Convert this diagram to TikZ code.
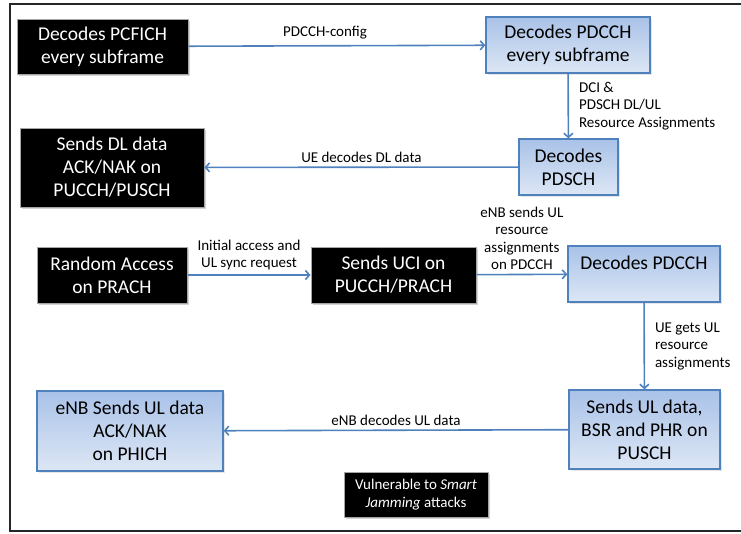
\documentclass[tikz,border=0pt]{standalone}
\usepackage{fontspec}
\setmainfont{Carlito}
\usetikzlibrary{arrows.meta,shadows}
\definecolor{lteblue}{HTML}{4F81BD}
\definecolor{ltetop}{HTML}{A9C2E8}
\definecolor{ltebot}{HTML}{DDE7F5}

\begin{document}
\begin{tikzpicture}[
    x=1pt, y=-1pt,
    darkbox/.style={rectangle, draw=gray!70, line width=1pt, fill=black,
        text=white, align=center, inner sep=0pt,
        font=\fontsize{19.5}{23}\selectfont,
        drop shadow={shadow xshift=2pt, shadow yshift=-2pt, opacity=0.35}},
    bluebox/.style={rectangle, draw=lteblue, line width=1.4pt,
        top color=ltetop, bottom color=ltebot, align=center, inner sep=0pt,
        font=\fontsize{19.5}{23}\selectfont,
        drop shadow={shadow xshift=1.5pt, shadow yshift=-1.5pt, opacity=0.2}},
    edge/.style={draw=lteblue, line width=1.6pt,
        -{Straight Barb[length=4pt, width=9pt, line width=1.6pt]}},
    lbl/.style={font=\fontsize{15}{17.5}\selectfont, inner sep=2pt}
]
    \useasboundingbox (0,0) rectangle (741,533);
    \draw[line width=2pt, black!85] (760,4) -- (10,4) -- (10,531) -- (760,531);

    \node[darkbox, minimum width=171pt, minimum height=55pt] (pcfich) at (102.5,46.5)
        {Decodes PCFICH\\every subframe};
    \node[bluebox, minimum width=164pt, minimum height=56pt] (pdcch) at (568,45)
        {Decodes PDCCH\\every subframe};
    \node[bluebox, minimum width=99pt, minimum height=56pt] (pdsch) at (568.5,167)
        {Decodes\\PDSCH};
    \node[darkbox, minimum width=184pt, minimum height=79pt] (dlack) at (112,167.5)
        {Sends DL data\\ACK/NAK on\\PUCCH/PUSCH};
    \node[darkbox, minimum width=150pt, minimum height=56pt] (rach) at (112,275)
        {Random Access\\on PRACH};
    \node[darkbox, minimum width=165pt, minimum height=56pt] (uci) at (393.5,275)
        {Sends UCI on\\PUCCH/PRACH};
    \node[bluebox, minimum width=152pt, minimum height=56pt] (pdcchul) at (644,274)
        {Decodes PDCCH\\\mbox{}};
    \node[bluebox, minimum width=151pt, minimum height=79pt] (ulsend) at (644.5,429.5)
        {Sends UL data,\\BSR and PHR on\\PUSCH};
    \node[bluebox, minimum width=186pt, minimum height=80pt] (phich) at (130,431)
        {eNB Sends UL data\\ACK/NAK\\on PHICH};
    \node[darkbox, minimum width=144pt, minimum height=45pt,
        font=\fontsize{15}{18}\selectfont] (vuln) at (416,494.5)
        {Vulnerable to \textit{Smart}\\\textit{Jamming} attacks};

    \draw[edge] (pcfich) -- node[lbl, above=4pt, pos=0.46] {PDCCH-config} (pdcch);
    \draw[edge] (pdcch) -- node[lbl, right=8pt, align=left] {DCI \&\\PDSCH DL/UL\\Resource Assignments} (pdsch);
    \draw[edge] (pdsch) -- node[lbl, above=2pt] {UE decodes DL data} (dlack);
    \draw[edge] (rach) -- node[lbl, above=2pt, align=center] {Initial access and\\UL sync request} (uci);
    \draw[edge] (uci) -- node[lbl, above=2pt, align=center] {eNB sends UL\\resource\\assignments\\on PDCCH} (pdcchul);
    \draw[edge] (pdcchul) -- node[lbl, right=8pt, align=left] {UE gets UL\\resource\\assignments} (ulsend);
    \draw[edge] (ulsend) -- node[lbl, above=2pt] {eNB decodes UL data} (phich);
\end{tikzpicture}
\end{document}
